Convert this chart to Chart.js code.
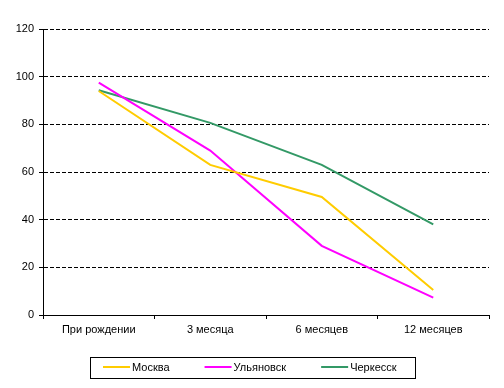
<!DOCTYPE html>
<html>
<head>
<meta charset="utf-8">
<script src="https://cdn.jsdelivr.net/npm/chart.js@4"></script>
<style>
	html, body { margin: 0; padding: 0; background: #fff; }
	#wrap { width: 504px; height: 388px; }
</style>
</head>
<body>
<div id="wrap"><canvas id="chart" width="504" height="388"></canvas></div>
<script>
// data
const categories = ["При рождении", "3 месяца", "6 месяцев", "12 месяцев"];
const moskva = [94, 63, 49.5, 10.5];
const ulyanovsk = [97.5, 69, 29, 7.3];
const cherkessk = [94.3, 80.6, 63, 38];
const yTicks = [0, 20, 40, 60, 80, 100, 120];

const FONT = "'Liberation Sans', Arial, sans-serif";

// legend in a framed box, like the excel one
const boxLegend = {
	id: "boxLegend",
	afterDraw(chart) {
		const ctx = chart.ctx;
		ctx.save();
		ctx.font = "11px " + FONT;
		const lineLen = 27, gapText = 2, gapItem = 35;
		const items = chart.data.datasets.map(ds => ({
			label: ds.label,
			color: ds.borderColor,
			w: ctx.measureText(ds.label).width
		}));
		let contentW = 0;
		items.forEach((it, i) => {
			contentW += lineLen + gapText + it.w + (i < items.length - 1 ? gapItem : 0);
		});
		const boxW = Math.round(contentW + 31);
		const left = Math.round(chart.width / 2 - boxW / 2);
		const top = 357, h = 21;
		ctx.strokeStyle = "#000";
		ctx.lineWidth = 1;
		ctx.strokeRect(left + 0.5, top + 0.5, boxW, h);
		const cy = top + h / 2 + 0.5;
		let x = left + 13;
		ctx.textBaseline = "middle";
		ctx.fillStyle = "#000";
		items.forEach(it => {
			ctx.strokeStyle = it.color;
			ctx.lineWidth = 2;
			ctx.beginPath();
			ctx.moveTo(x, cy - 1);
			ctx.lineTo(x + lineLen, cy - 1);
			ctx.stroke();
			x += lineLen + gapText;
			ctx.fillText(it.label, x, cy);
			x += it.w + gapItem;
		});
		ctx.restore();
	}
};

new Chart(document.getElementById("chart"), {
	type: "line",
	data: {
		labels: categories,
		datasets: [
			{ label: "Москва", data: moskva, borderColor: "#FFCC00" },
			{ label: "Ульяновск", data: ulyanovsk, borderColor: "#FF00FF" },
			{ label: "Черкесск", data: cherkessk, borderColor: "#339966" }
		]
	},
	options: {
		responsive: false,
		animation: false,
		devicePixelRatio: 1,
		layout: { padding: { top: 29, right: 15, bottom: 43, left: 0 } },
		elements: {
			line: { borderWidth: 2, tension: 0, fill: false },
			point: { radius: 0 }
		},
		plugins: {
			legend: { display: false },
			tooltip: { enabled: false }
		},
		scales: {
			x: {
				offset: true,
				grid: { offset: true, drawOnChartArea: false, drawTicks: true, tickLength: 4, color: "#000" },
				border: { display: true, color: "#000", width: 1 },
				ticks: { color: "#000", font: { family: FONT, size: 11 }, padding: 4, maxRotation: 0 },
				afterFit: s => { s.height = 30; }
			},
			y: {
				min: 0,
				max: 120,
				afterBuildTicks: s => { s.ticks = yTicks.map(v => ({ value: v })); },
				grid: { color: "#000", lineWidth: 1, tickLength: 4, drawTicks: true },
				border: { display: true, color: "#000", width: 1, dash: [4, 2] },
				ticks: { color: "#000", font: { family: FONT, size: 11 }, padding: 5 },
				afterFit: s => { s.width = 43; }
			}
		}
	},
	plugins: [boxLegend]
});
</script>
</body>
</html>
